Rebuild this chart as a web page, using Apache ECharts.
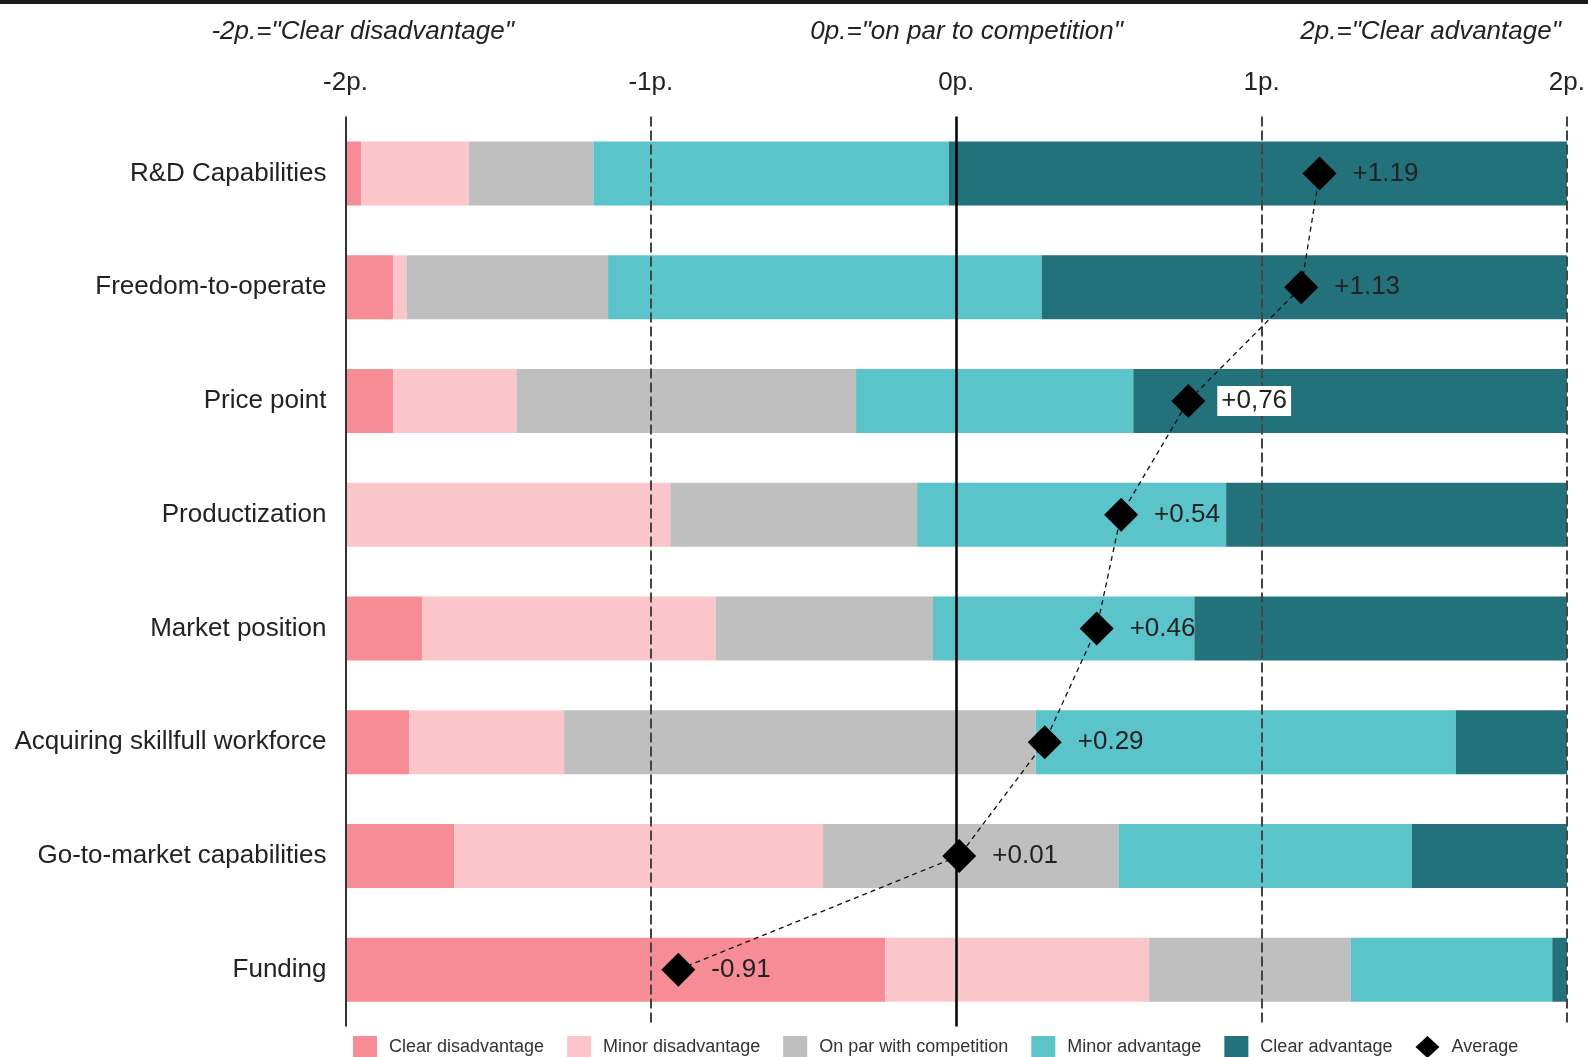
<!DOCTYPE html>
<html>
<head>
<meta charset="utf-8">
<script src="https://cdn.jsdelivr.net/npm/echarts@6/dist/echarts.min.js"></script>
<style>
  html, body { margin: 0; padding: 0; background: #fff; }
  #chart { width: 1588px; height: 1057px; }
</style>
</head>
<body>
<div id="chart"></div>
<script>
// ---- data ----
const categories = ['R&D Capabilities', 'Freedom-to-operate', 'Price point', 'Productization',
  'Market position', 'Acquiring skillfull workforce', 'Go-to-market capabilities', 'Funding'];
const seriesNames = ['Clear disadvantage', 'Minor disadvantage', 'On par with competition',
  'Minor advantage', 'Clear advantage'];
// share of answers (%) per category
const clearDisadvantage = [1.3, 3.9, 3.9, 0.0, 6.3, 5.2, 8.9, 44.2];
const minorDisadvantage = [8.8, 1.1, 10.1, 26.6, 24.0, 12.7, 30.2, 21.6];
const onPar            = [10.2, 16.5, 27.8, 20.2, 17.8, 38.6, 24.2, 16.5];
const minorAdvantage   = [29.1, 35.5, 22.7, 25.3, 21.4, 34.4, 24.0, 16.5];
const clearAdvantage   = [50.6, 43.0, 35.5, 27.9, 30.5, 9.1, 12.7, 1.2];
const averageScore = [1.19, 1.13, 0.76, 0.54, 0.46, 0.29, 0.01, -0.91];
const averageLabels = ['+1.19', '+1.13', '+0,76', '+0.54', '+0.46', '+0.29', '+0.01', '-0.91'];
const boxedLabelCategory = 'Price point';
const scoreTicks = [-2, -1, 0, 1, 2];
const annotations = ['-2p.="Clear disadvantage"', '0p.="on par to competition"', '2p.="Clear advantage"'];

const colors = ['#F68C95', '#FAC6CA', '#BFBFBF', '#5BC4CA', '#23717B'];
const FONT = '"Liberation Sans", Arial, Helvetica, sans-serif';

const chart = echarts.init(document.getElementById('chart'), null, { renderer: 'canvas' });

const barData = [clearDisadvantage, minorDisadvantage, onPar, minorAdvantage, clearAdvantage];
const barSeries = seriesNames.map((name, i) => ({
  name: name,
  type: 'bar',
  stack: 'total',
  xAxisIndex: 0,
  yAxisIndex: 0,
  barWidth: 64,
  z: 2,
  itemStyle: { color: colors[i] },
  data: barData[i]
}));

const lineStyles = {
  '-2': { type: 'solid', color: '#333', width: 2 },
  '-1': { type: [10, 4], color: '#444', width: 2 },
  '0': { type: 'solid', color: '#000', width: 2.5 },
  '1': { type: [10, 4], color: '#444', width: 2 },
  '2': { type: [10, 4], color: '#444', width: 2 }
};

const refSeries = {
  name: 'ref',
  type: 'line',
  xAxisIndex: 1,
  yAxisIndex: 0,
  data: [],
  z: 3,
  silent: true,
  markLine: {
    silent: true,
    symbol: 'none',
    label: { show: false },
    emphasis: { disabled: true },
    data: scoreTicks.map(v => ({ xAxis: v, lineStyle: lineStyles[String(v)] }))
  }
};

const avgSeries = {
  name: 'Average',
  type: 'line',
  xAxisIndex: 1,
  yAxisIndex: 0,
  z: 5,
  symbol: 'diamond',
  symbolSize: 34,
  itemStyle: { color: '#000' },
  lineStyle: { color: '#111', width: 1.3, type: [5, 4] },
  label: {
    show: true,
    position: 'right',
    distance: 16,
    fontFamily: FONT,
    fontSize: 26,
    color: '#222',
    padding: [4, 0, 0, 0]
  },
  data: averageScore.map((v, i) => {
    const item = {
      value: [v, categories[i]],
      label: { formatter: averageLabels[i] }
    };
    if (categories[i] === boxedLabelCategory) {
      item.label.backgroundColor = '#fff';
      item.label.padding = [3, 4, 1, 4];
      item.label.distance = 12;
    }
    return item;
  })
};

const option = {
  animation: false,
  backgroundColor: '#fff',
  textStyle: { fontFamily: FONT },
  grid: { left: 345.5, right: 20, top: 116.5, bottom: 30.5 },
  xAxis: [
    { type: 'value', min: 0, max: 100, show: false },
    {
      type: 'value', position: 'top', min: -2, max: 2, interval: 1,
      axisLine: { show: false }, axisTick: { show: false }, splitLine: { show: false },
      axisLabel: {
        margin: 21, fontSize: 26, color: '#222', fontFamily: FONT,
        formatter: v => v + 'p.'
      }
    }
  ],
  yAxis: {
    type: 'category',
    inverse: true,
    data: categories,
    axisLine: { show: false },
    axisTick: { show: false },
    axisLabel: { fontSize: 26, color: '#222', margin: 19, fontFamily: FONT, padding: [4, 0, 0, 0] }
  },
  legend: {
    left: 348,
    top: 1031,
    itemWidth: 24,
    itemHeight: 22,
    itemGap: 23,
    selectedMode: false,
    textStyle: { fontSize: 18, color: '#333', fontFamily: FONT, padding: [0, 0, 0, 7] },
    data: seriesNames.map(n => ({ name: n, icon: 'rect' })).concat([{ name: 'Average', icon: 'diamond' }])
  },
  graphic: [
    { type: 'rect', left: 0, top: 0, shape: { width: 1588, height: 4 }, style: { fill: '#1a1a1a' } },
    { type: 'text', x: 362.7, y: 31.5, style: { text: annotations[0], font: 'italic 26px ' + FONT, fill: '#222', align: 'center', verticalAlign: 'middle' } },
    { type: 'text', x: 966.6, y: 31.5, style: { text: annotations[1], font: 'italic 26px ' + FONT, fill: '#222', align: 'center', verticalAlign: 'middle' } },
    { type: 'text', x: 1430.6, y: 31.5, style: { text: annotations[2], font: 'italic 26px ' + FONT, fill: '#222', align: 'center', verticalAlign: 'middle' } }
  ],
  series: barSeries.concat([refSeries, avgSeries])
};

chart.setOption(option);
</script>
</body>
</html>
